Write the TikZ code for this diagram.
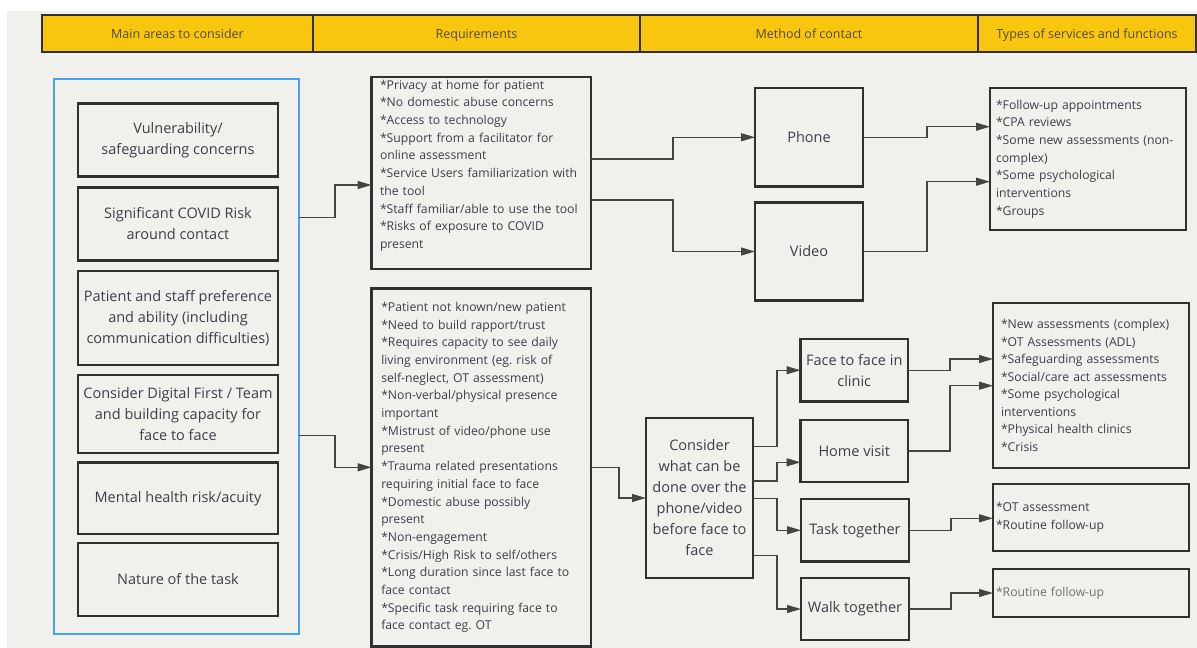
\documentclass[tikz,border=0pt]{standalone}
\usepackage{fontspec}
\setmainfont{Open Sans}
\usetikzlibrary{arrows.meta}
\definecolor{bg}{RGB}{240,240,236}
\definecolor{hdr}{RGB}{249,198,15}
\definecolor{hdrtxt}{RGB}{80,76,40}
\definecolor{bd}{RGB}{48,48,48}
\definecolor{txt}{RGB}{62,62,74}
\definecolor{lighttxt}{RGB}{112,112,112}
\definecolor{blu}{RGB}{72,162,240}
\definecolor{ln}{RGB}{68,68,68}
\frenchspacing
\begin{document}
\begin{tikzpicture}[x=1pt,y=-1pt,
  every node/.style={inner sep=0pt, outer sep=0pt, text=txt},
  hdrbox/.style={draw=bd, line width=2pt, fill=hdr, minimum height=37pt,
    text height=13pt, text depth=3pt,
    font=\fontsize{12.5}{15}\selectfont, text=hdrtxt},
  areabox/.style={draw=bd, line width=2.2pt, minimum width=200pt, align=center,
    font=\fontsize{14.5}{21}\selectfont},
  methbox/.style={draw=bd, line width=2.2pt, align=center,
    font=\fontsize{14.5}{21}\selectfont},
  listbox/.style={draw=bd, line width=2.2pt, align=left,
    font=\fontsize{12.2}{17.7}\selectfont},
  conn/.style={draw=ln, line width=1.2pt, -{Triangle[length=14pt,width=8pt]}},
]
\useasboundingbox (0,0) rectangle (1197,648);
\fill[white] (0,0) rectangle (1197,648);
\fill[bg] (7,11) rectangle (1197,648);

% header
\node[hdrbox, minimum width=271pt] (h1) at (177.5,33.5) {Main areas to consider};
\node[hdrbox, minimum width=327pt] (h2) at (476.5,33.5) {Requirements};
\node[hdrbox, minimum width=338pt] (h3) at (809,33.5) {Method of contact};
\node[hdrbox, minimum width=218pt] (h4) at (1087,33.5) {Types of services and functions};

% left column
\node[draw=blu, line width=2pt, minimum width=245pt, minimum height=555pt] (blue) at (176.5,356.5) {};
\node[areabox, minimum height=73pt] (a1) at (178,140) {Vulnerability/\\safeguarding concerns};
\node[areabox, minimum height=73pt] (a2) at (178,224) {Significant COVID Risk\\around contact};
\node[areabox, minimum height=94pt] (a3) at (178,318) {Patient and staff preference\\and ability (including\\communication difficulties)};
\node[areabox, minimum height=78pt] (a4) at (178,414) {Consider Digital First / Team\\and building capacity for\\face to face};
\node[areabox, minimum height=71.5pt] (a5) at (178,498.25) {Mental health risk/acuity};
\node[areabox, minimum height=73pt] (a6) at (178,579.5) {Nature of the task};

% requirements
\node[listbox, text width=202.5pt, inner xsep=8.5pt, minimum height=192pt] (r1) at (481.25,173)
{{*}Privacy at home for patient\\
{*}No domestic abuse concerns\\
{*}Access to technology\\
{*}Support from a facilitator for\\
online assessment\\
{*}Service Users familiarization with\\
the tool\\
{*}Staff familiar/able to use the tool\\
{*}Risks of exposure to COVID\\
present\\ \mbox{}};
\node[listbox, text width=200pt, inner xsep=9.75pt, minimum height=358pt] (r2) at (481.25,467.5)
{{*}Patient not known/new patient\\
{*}Need to build rapport/trust\\
{*}Requires capacity to see daily\\
living environment (eg. risk of\\
self-neglect, OT assessment)\\
{*}Non-verbal/physical presence\\
important\\
{*}Mistrust of video/phone use\\
present\\
{*}Trauma related presentations\\
requiring initial face to face\\
{*}Domestic abuse possibly\\
present\\
{*}Non-engagement\\
{*}Crisis/High Risk to self/others\\
{*}Long duration since last face to\\
face contact\\
{*}Specific task requiring face to\\
face contact eg. OT};

% methods
\node[methbox, minimum width=108pt, minimum height=98.5pt] (phone) at (809,137.25) {Phone};
\node[methbox, minimum width=108pt, minimum height=98pt] (video) at (809,251.5) {Video};
\node[methbox, minimum width=107pt, minimum height=160pt] (cons) at (699.5,498)
{Consider\\what can be\\done over the\\phone/video\\before face to\\face};
\node[methbox, minimum width=107.5pt, minimum height=62.5pt] (f2f) at (854.25,370.25) {Face to face in\\clinic};
\node[methbox, minimum width=107.5pt, minimum height=62pt] (home) at (854.25,451) {Home visit};
\node[methbox, minimum width=108pt, minimum height=62.5pt] (task) at (855,530.25) {Task together};
\node[methbox, minimum width=108pt, minimum height=62pt] (walk) at (855,609) {Walk together};

% services
\node[listbox, text width=184pt, inner xsep=6pt, minimum height=142pt] (s1) at (1088,159)
{{*}Follow-up appointments\\
{*}CPA reviews\\
{*}Some new assessments (non-\\
complex)\\
{*}Some psychological\\
interventions\\
{*}Groups};
\node[listbox, text width=180pt, inner xsep=8pt, minimum height=165pt, font=\fontsize{12.2}{17.5}\selectfont] (s2) at (1091,385.5)
{{*}New assessments (complex)\\
{*}OT Assessments (ADL)\\
{*}Safeguarding assessments\\
{*}Social/care act assessments\\
{*}Some psychological\\
interventions\\
{*}Physical health clinics\\
{*}Crisis};
\node[listbox, text width=190pt, inner xsep=3pt, minimum height=67pt] (s3) at (1091,517.5)
{{*}OT assessment\\
{*}Routine follow-up};
\node[listbox, text width=190pt, inner xsep=3pt, minimum height=48pt, text=lighttxt] (s4) at (1091,593)
{{*}Routine follow-up};

% connectors
\draw[conn] (blue.east |- 0,217.7) -- ++(36,0) |- (r1.west |- 0,185);
\draw[conn] (blue.east |- 0,435.7) -- ++(36,0) |- (r2.west |- 0,467.3);
\draw[conn] (r1.east |- 0,159) -- ++(82,0) |- (phone.west);
\draw[conn] (r1.east |- 0,200) -- ++(82,0) |- (video.west);
\draw[conn] (phone.east) -- ++(64,0) |- (s1.west |- 0,126.7);
\draw[conn] (video.east) -- ++(64,0) |- (s1.west |- 0,181.7);
\draw[conn] (r2.east |- 0,467.3) -- ++(28,0) |- (cons.west);
\draw[conn] (cons.east |- 0,446.7) -- ++(24,0) |- (f2f.west);
\draw[conn] (cons.east |- 0,481) -- ++(24,0) |- (home.west |- 0,462.3);
\draw[conn] (cons.east |- 0,498.3) -- ++(24,0) |- (task.west);
\draw[conn] (cons.east |- 0,555.7) -- ++(24,0) |- (walk.west);
\draw[conn] (f2f.east) -- ++(42,0) |- (s2.west |- 0,359);
\draw[conn] (home.east) -- ++(42,0) |- (s2.west |- 0,385.7);
\draw[conn] (task.east) -- ++(42,0) |- (s3.west |- 0,518.3);
\draw[conn] (walk.east) -- ++(42,0) |- (s4.west);
\end{tikzpicture}
\end{document}
